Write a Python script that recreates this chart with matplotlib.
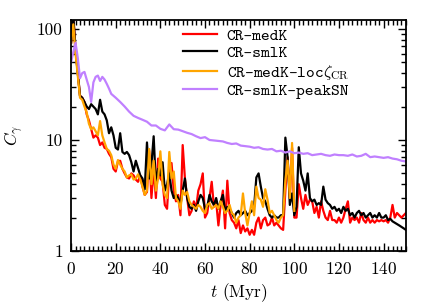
import numpy as np
import matplotlib
matplotlib.use("Agg")
import matplotlib.pyplot as plt
from matplotlib.ticker import MultipleLocator, LogLocator, FuncFormatter

# time in Myr
t_full = np.arange(0, 151)
t_loc = np.arange(0, 101)

medK = [75, 130, 65, 40, 25, 24, 22, 17, 15, 12.5,
        10.5, 11, 10.5, 9, 9.5, 8.5, 8.3, 7.5, 7, 5.5,
        5.2, 6.4, 6.5, 5.5, 5.0, 4.6, 4.5, 5.0, 4.8, 4.4,
        4.2, 4.8, 3.8, 3.2, 3.4, 8.0, 3.0, 5.5, 3.0, 6.8,
        4.5, 4.2, 2.6, 2.4, 5.2, 6.2, 3.5, 2.8, 3.2, 2.1,
        9.0, 4.5, 3.0, 2.1, 2.3, 2.8, 2.4, 3.5, 4.0, 5.0,
        2.0, 2.2, 3.0, 4.2, 2.5, 2.8, 1.7, 2.6, 3.5, 1.6,
        4.3, 2.2, 1.9, 1.8, 1.6, 1.9, 1.45, 1.7, 1.5, 1.6,
        1.4, 1.55, 1.4, 1.8, 2.0, 1.6, 1.9, 2.0, 1.7, 1.75,
        2.0, 1.7, 1.8, 1.7, 1.6, 1.55, 3.5, 7.0, 3.0, 8.5,
        2.0, 2.0, 4.0, 3.0, 2.4, 3.2, 2.6, 2.9, 2.8, 2.2,
        2.5, 2.0, 2.8, 2.3, 2.0, 1.9, 2.3, 1.9, 1.9, 1.8,
        2.0, 1.8, 2.0, 2.4, 2.8, 1.8, 2.0, 1.9, 2.0, 1.8,
        2.2, 1.9, 1.8, 2.0, 1.8, 1.9, 1.8, 1.9, 1.85, 1.9,
        1.85, 1.9, 1.8, 2.0, 2.6, 2.0, 2.2, 2.1, 2.0, 2.1,
        2.2]

smlK = [75, 130, 65, 40, 25, 24, 22, 20, 19, 21,
        20, 19, 17, 23, 18, 17, 15, 11.5, 13, 11,
        8.5, 8.2, 11.5, 7.8, 7.5, 7.8, 7.3, 6.3, 5.2, 6.5,
        5.6, 4.8, 4.5, 3.6, 9.5, 4.5, 6.0, 10.8, 4.0, 5.5,
        4.8, 6.3, 3.5, 4.0, 5.0, 3.5, 3.0, 3.2, 3.0, 2.6,
        3.5, 4.5, 3.0, 2.5, 2.4, 2.6, 2.3, 2.8, 3.2, 3.0,
        2.4, 2.5, 3.2, 2.8, 2.6, 3.0, 2.4, 2.8, 3.2, 2.3,
        2.5, 2.4, 2.2, 2.0, 2.2, 2.3, 2.1, 2.2, 2.3, 2.1,
        2.2, 2.3, 2.5, 4.6, 5.0, 3.8, 3.0, 2.8, 2.4, 2.1,
        2.0, 2.1, 2.0, 2.0, 2.1, 2.1, 10.5, 7.0, 2.6, 3.3,
        2.1, 2.5, 8.6, 5.0, 4.3, 3.5, 5.0, 3.0, 2.8, 2.9,
        2.6, 2.7, 2.6, 3.8, 2.9, 2.7, 2.6, 2.4, 2.5, 2.3,
        2.4, 2.2, 2.5, 2.3, 2.4, 2.1, 2.2, 2.0, 2.2, 2.3,
        2.1, 2.2, 2.0, 2.1, 2.2, 2.0, 2.1, 2.0, 2.2, 2.0,
        2.0, 2.1, 1.9, 1.95, 1.85, 1.8, 1.75, 1.7, 1.65, 1.6,
        1.55]

medK_loc = [75, 110, 60, 38, 24, 23, 20, 17.7, 14, 12.5,
            13, 12, 11, 14.8, 11, 9.5, 8.3, 8.0, 7.3, 6.0,
            5.5, 6.6, 6.0, 5.5, 5.2, 4.6, 4.8, 4.9, 4.4, 4.5,
            4.9, 4.4, 3.8, 3.2, 3.5, 8.3, 4.0, 6.5, 3.5, 4.5,
            7.9, 4.0, 3.2, 3.0, 7.8, 4.5, 5.2, 3.0, 2.8, 2.4,
            3.5, 3.2, 3.4, 2.8, 2.6, 2.5, 2.4, 2.6, 2.5, 2.3,
            2.2, 2.6, 2.7, 2.4, 2.5, 2.6, 2.4, 2.8, 2.5, 2.2,
            2.3, 2.6, 2.2, 2.1, 1.8, 2.0, 2.1, 3.3, 2.2, 1.7,
            2.2, 2.8, 2.1, 3.8, 3.0, 2.9, 2.5, 3.6, 2.9, 2.2,
            2.3, 2.1, 1.9, 1.8, 2.0, 2.1, 4.3, 6.5, 3.0, 9.4,
            2.3]

t_peak = [0, 1, 2, 3, 4, 5, 6, 7, 8, 9, 10, 11, 12, 13, 14, 15, 16, 17, 18,
          20, 22, 24, 26, 28, 30, 32, 34, 36, 38, 40, 42, 44, 46, 48, 50,
          52, 54, 56, 58, 60, 62, 64, 66, 68, 70, 72, 74, 76, 78, 80,
          82, 84, 86, 88, 90, 92, 94, 96, 98, 100, 102, 104, 106, 108, 110,
          112, 114, 116, 118, 120, 122, 124, 126, 128, 130, 132, 134, 136,
          138, 140, 142, 144, 146, 148, 150]
smlK_peak = [50, 62, 75, 55, 36, 40, 41, 35, 30, 22, 33, 37, 38, 34, 37, 35,
             32, 29, 26,
             24, 22, 20, 18, 16.5, 15.8, 15.2, 14.6, 13.5, 13.5, 12.6, 12.2,
             13.8, 12.5, 12.4, 12.0,
             11.6, 11.3, 10.8, 10.4, 10.6, 10.0, 9.9, 9.8, 9.7, 9.4, 9.2,
             9.3, 8.9, 8.8, 8.7,
             8.5, 8.6, 8.3, 8.2, 8.3, 7.9, 8.0, 7.7, 7.9, 7.6, 7.7, 7.5,
             7.6, 7.3, 7.4,
             7.5, 7.3, 7.2, 7.4, 7.3, 7.3, 7.2, 7.4, 7.1, 7.2, 7.5, 7.0, 7.1,
             7.0, 6.9, 7.0, 6.8, 6.7, 6.5, 6.4]

plt.rcParams['font.family'] = 'cmr10'
plt.rcParams['mathtext.fontset'] = 'cm'
plt.rcParams['axes.formatter.use_mathtext'] = True
plt.rcParams['axes.unicode_minus'] = False

fig = plt.figure(figsize=(4.36, 3.05), dpi=100)
ax = fig.add_axes([0.163, 0.177, 0.768, 0.757])

ax.plot(t_full, medK, color='#ff0000', lw=1.6, label='CR-medK')
ax.plot(t_full, smlK, color='black', lw=1.6, label='CR-smlK')
ax.plot(t_loc, medK_loc, color='#ffa500', lw=1.6,
        label=r'CR-medK-loc$\zeta_{\rm CR}$')
ax.plot(t_peak, smlK_peak, color='#c080ff', lw=1.6, label='CR-smlK-peakSN')

ax.set_yscale('log')
ax.set_xlim(0, 150)
ax.set_ylim(1, 120)
ax.xaxis.set_major_locator(MultipleLocator(20))
ax.xaxis.set_minor_locator(MultipleLocator(2))
ax.yaxis.set_major_locator(LogLocator(base=10))
ax.yaxis.set_minor_locator(LogLocator(base=10, subs=np.arange(2, 10)))
ax.yaxis.set_major_formatter(FuncFormatter(lambda v, p: '%d' % v))
ax.yaxis.set_minor_formatter(FuncFormatter(lambda v, p: ''))
ax.tick_params(which='both', direction='in', top=True, right=True,
               labelsize=12.5, width=1.0)
ax.tick_params(which='major', length=6)
ax.tick_params(which='minor', length=3.5)
ax.tick_params(axis='x', which='major', pad=7)
ax.tick_params(axis='y', which='major', pad=6)
for s in ax.spines.values():
    s.set_linewidth(1.3)

ax.set_xlabel(r'$t$ (Myr)', fontsize=12.5, labelpad=3)
ax.set_ylabel(r'$C_\gamma$', fontsize=12.5, labelpad=8)

ax.legend(loc='upper right', bbox_to_anchor=(0.875, 1.03), frameon=False,
          prop={'family': 'cmtt10', 'size': 12}, handlelength=2.0,
          handletextpad=0.6, labelspacing=0.1, borderpad=0.4)

plt.savefig('out.png', dpi=100)
